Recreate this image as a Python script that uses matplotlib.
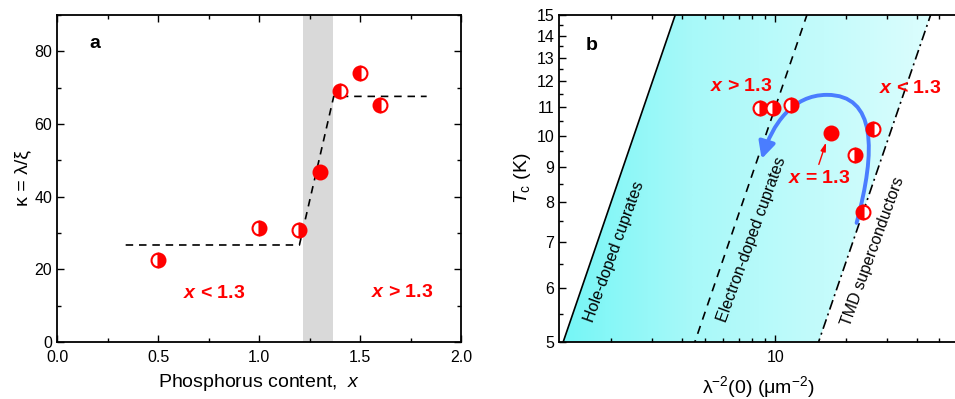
import numpy as np
import matplotlib
matplotlib.use("Agg")
import matplotlib.pyplot as plt
from matplotlib.patches import Polygon, FancyArrowPatch
from matplotlib.path import Path
from matplotlib.colors import LinearSegmentedColormap
from matplotlib.ticker import MultipleLocator, FixedLocator, NullFormatter, FixedFormatter

plt.rcParams['font.family'] = ['Liberation Sans', 'DejaVu Sans']
plt.rcParams['mathtext.fontset'] = 'custom'
plt.rcParams['mathtext.rm'] = 'Liberation Sans'
plt.rcParams['mathtext.it'] = 'Liberation Sans:italic'
plt.rcParams['mathtext.bf'] = 'Liberation Sans:bold'
plt.rcParams['mathtext.bfit'] = 'Liberation Sans:italic:bold'

# ---------------- data: panel a ----------------
p_content = [0.5, 1.0, 1.2, 1.3, 1.4, 1.5, 1.6]
kappa = [22.7, 31.5, 30.8, 46.8, 69.0, 74.0, 65.2]
fill_a = ['right', 'right', 'right', 'full', 'left', 'left', 'left']
guide_x = [0.34, 1.20, 1.37, 1.83]
guide_y = [26.7, 26.7, 67.6, 67.6]
band_x = [1.22, 1.365]

# ---------------- data: panel b ----------------
lam2 = [8.65, 9.8, 11.7, 17.2, 26.2, 21.8, 23.7]
tc = [10.98, 10.98, 11.1, 10.1, 10.24, 9.38, 7.74]
fill_b = ['right', 'right', 'right', 'full', 'left', 'right', 'left']
# Tc = coef * lambda^-2 guide lines
coef_hole = 4.0
coef_elec = 1.1
coef_tmd = 0.327
tc_line = np.array([4.9, 15.5])

red = '#ff0000'
xb = '$\\mathbfit{x}$'

fig = plt.figure(figsize=(9.55, 3.99), dpi=100)
ax1 = fig.add_axes([57/955, 1-342/399, 404/955, 327/399])
ax2 = fig.add_axes([559/955, 1-342/399, 399/955, 327/399])

# ---------- panel a ----------
ax1.axvspan(band_x[0], band_x[1], color='#d9d9d9', lw=0, zorder=0)
ax1.plot(guide_x, guide_y, ls=(0, (4.5, 3.5)), color='black', lw=1.2, zorder=2)
for xv, yv, fs in zip(p_content, kappa, fill_a):
    ax1.plot(xv, yv, 'o', ms=10, mfc=red, mec=red, mew=1.5, fillstyle=fs,
             markerfacecoloralt='white', zorder=3)
ax1.set_xlim(0, 2)
ax1.set_ylim(0, 90)
ax1.xaxis.set_major_locator(MultipleLocator(0.5))
ax1.xaxis.set_minor_locator(MultipleLocator(0.25))
ax1.yaxis.set_major_locator(MultipleLocator(20))
ax1.yaxis.set_minor_locator(MultipleLocator(10))
ax1.xaxis.set_major_formatter(matplotlib.ticker.FormatStrFormatter('%.1f'))
ax1.set_xlabel('Phosphorus content,  $\\mathit{x}$', fontsize=14, labelpad=5)
ax1.set_ylabel('κ = λ/ξ', fontsize=14, labelpad=2)
ax1.text(0.094, 0.914, 'a', transform=ax1.transAxes, fontsize=14,
         fontweight='bold', ha='center', va='center')
ax1.text(0.39, 0.148, xb + ' < 1.3', transform=ax1.transAxes,
         fontsize=14, fontweight='bold', color=red, ha='center', va='center')
ax1.text(0.855, 0.152, xb + ' > 1.3', transform=ax1.transAxes,
         fontsize=14, fontweight='bold', color=red, ha='center', va='center')

# ---------- panel b ----------
ax2.set_xscale('log')
ax2.set_yscale('log')
ax2.set_xlim(1.2, 60)
ax2.set_ylim(5, 15)

poly_pts = [(tc_line[0]/coef_hole, tc_line[0]), (tc_line[1]/coef_hole, tc_line[1]),
            (tc_line[1]/coef_tmd, tc_line[1]), (tc_line[0]/coef_tmd, tc_line[0])]
poly = Polygon(poly_pts, closed=True, transform=ax2.transData, fc='none', ec='none')
ax2.add_patch(poly)
grad = np.linspace(0, 1, 400).reshape(1, -1)
cmap = LinearSegmentedColormap.from_list('cy', ['#74f6f6', '#a8f9f9', '#c4fbfb', '#e2fefe'])
im = ax2.imshow(grad, cmap=cmap, aspect='auto', extent=(0, 1, 0, 1),
                transform=ax2.transAxes, zorder=0, interpolation='bilinear')
im.set_clip_path(poly)

ax2.plot(tc_line/coef_hole, tc_line, color='black', lw=1.2, zorder=2)
ax2.plot(tc_line/coef_elec, tc_line, color='black', lw=1.2, ls=(0, (5, 4)), zorder=2)
ax2.plot(tc_line/coef_tmd, tc_line, color='black', lw=1.2, ls=(0, (6, 2.5, 1.2, 2.5)), zorder=2)

# curved blue arrow (annotation)
verts = [(22.2, 7.46), (26.9, 9.53), (26.9, 11.47), (16.6, 11.47),
         (11.8, 11.47), (9.71, 10.37), (8.75, 9.25)]
codes = [Path.MOVETO, Path.CURVE4, Path.CURVE4, Path.CURVE4,
         Path.CURVE4, Path.CURVE4, Path.CURVE4]
arr = FancyArrowPatch(path=Path(verts, codes), transform=ax2.transData,
                      arrowstyle='-|>,head_length=10,head_width=5',
                      color='#4a7dff', lw=2.8, zorder=3)
ax2.add_patch(arr)

for xv, yv, fs in zip(lam2, tc, fill_b):
    ax2.plot(xv, yv, 'o', ms=10, mfc=red, mec=red, mew=1.5, fillstyle=fs,
             markerfacecoloralt='white', zorder=4)

ax2.annotate('', xy=(16.6, 9.86), xytext=(15.2, 9.0),
             arrowprops=dict(arrowstyle='-|>,head_length=0.5,head_width=0.15',
                             color=red, lw=1.0), zorder=5)

ax2.yaxis.set_major_locator(FixedLocator([5, 6, 7, 8, 9, 10, 11, 12, 13, 14, 15]))
ax2.yaxis.set_major_formatter(FixedFormatter(['5', '6', '7', '8', '9', '10', '11', '12', '13', '14', '15']))
ax2.yaxis.set_minor_locator(FixedLocator([5.5, 6.5, 7.5, 8.5, 9.5, 10.5, 11.5, 12.5, 13.5, 14.5]))
ax2.yaxis.set_minor_formatter(NullFormatter())
ax2.xaxis.set_major_locator(FixedLocator([10]))
ax2.xaxis.set_major_formatter(FixedFormatter(['10']))
ax2.xaxis.set_minor_locator(FixedLocator([2, 3, 4, 5, 6, 7, 8, 9, 20, 30, 40, 50]))
ax2.xaxis.set_minor_formatter(NullFormatter())

ax2.set_xlabel('λ$^{\\mathregular{-2}}$(0) (μm$^{\\mathregular{-2}}$)', fontsize=14, labelpad=6)
ax2.set_ylabel('$\\mathit{T}_{\\mathregular{c}}$ (K)', fontsize=14, labelpad=2)
ax2.text(0.083, 0.908, 'b', transform=ax2.transAxes, fontsize=14,
         fontweight='bold', ha='center', va='center')
ax2.text(0.457, 0.78, xb + ' > 1.3', transform=ax2.transAxes,
         fontsize=14, fontweight='bold', color=red, ha='center', va='center')
ax2.text(0.879, 0.774, xb + ' < 1.3', transform=ax2.transAxes,
         fontsize=14, fontweight='bold', color=red, ha='center', va='center')
ax2.text(0.652, 0.50, xb + ' = 1.3', transform=ax2.transAxes,
         fontsize=14, fontweight='bold', color=red, ha='center', va='center')
ax2.text(614, 399-252, 'Hole-doped cuprates', transform=None, fontsize=11.5,
         rotation=70, ha='center', va='center')
ax2.text(752, 399-240, 'Electron-doped cuprates', transform=None, fontsize=11.5,
         rotation=70, ha='center', va='center')
ax2.text(873, 399-251, 'TMD superconductors', transform=None, fontsize=11.5,
         rotation=70, ha='center', va='center')

for ax in (ax1, ax2):
    for sp in ax.spines.values():
        sp.set_linewidth(1.3)
    ax.tick_params(which='both', direction='in', top=True, right=True, labelsize=11.5)
    ax.tick_params(which='major', length=5, width=1)
    ax.tick_params(which='minor', length=3, width=1)
ax1.tick_params(axis='x', pad=6)
ax2.tick_params(axis='x', pad=6)
ax2.spines['right'].set_visible(False)
ax2.tick_params(which='both', right=False)

fig.savefig('out.png', dpi=100)
